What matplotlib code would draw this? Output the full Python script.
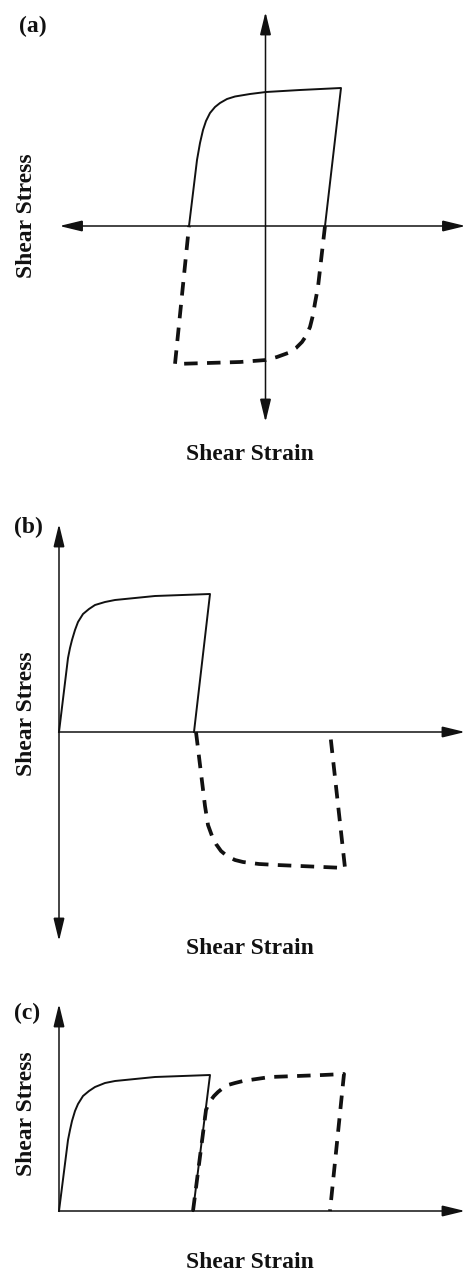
import matplotlib
matplotlib.use("Agg")
import matplotlib.pyplot as plt
from matplotlib.patches import FancyArrowPatch

# ---------------- data (strain, stress; arbitrary units) ----------------
# Panel (a): full reversed cycle
a_load_strain = [-0.765, -0.685, -0.655, -0.625, -0.595, -0.555, -0.505, -0.455, -0.385,
                 -0.305, -0.155, 0.005, 0.345, 0.755, 0.595]
a_load_stress = [0.0, 0.66, 0.83, 0.96, 1.05, 1.13, 1.19, 1.23, 1.27,
                 1.295, 1.32, 1.34, 1.36, 1.38, 0.0]
a_rev_strain = [0.595, 0.525, 0.495, 0.475, 0.445, 0.405, 0.365, 0.305, 0.225,
                0.115, 0.005, -0.255, -0.905, -0.765]
a_rev_stress = [0.0, -0.61, -0.77, -0.89, -1.01, -1.10, -1.16, -1.22, -1.27,
                -1.31, -1.34, -1.36, -1.38, 0.0]

# Panel (b): loading then reversed loading, continued strain
b_load_strain = [0.0, 0.09, 0.11, 0.13, 0.16, 0.19, 0.24, 0.30, 0.36, 0.46, 0.56, 0.76, 0.96, 1.51, 1.35]
b_load_stress = [0.0, 0.74, 0.84, 0.92, 1.02, 1.10, 1.18, 1.23, 1.27, 1.30, 1.32, 1.34, 1.36, 1.38, 0.0]
b_rev_strain = [1.37, 1.46, 1.49, 1.53, 1.57, 1.62, 1.68, 1.76, 1.84, 2.00, 2.18, 2.64, 2.86, 2.71]
b_rev_stress = [0.0, -0.74, -0.93, -1.04, -1.12, -1.19, -1.24, -1.28, -1.30, -1.32, -1.33, -1.35, -1.36, 0.0]

# Panel (c): loading then reloading in the same direction
c_load_strain = [0.0, 0.09, 0.11, 0.13, 0.16, 0.19, 0.24, 0.30, 0.36, 0.46, 0.56, 0.76, 0.96, 1.51, 1.34]
c_load_stress = [0.0, 0.71, 0.81, 0.90, 1.00, 1.07, 1.15, 1.20, 1.24, 1.28, 1.30, 1.32, 1.34, 1.36, 0.0]
c_re_strain = [1.34, 1.47, 1.49, 1.52, 1.55, 1.59, 1.64, 1.69, 1.76, 1.84, 2.11, 2.38, 2.64, 2.85, 2.71]
c_re_stress = [0.0, 1.01, 1.06, 1.11, 1.15, 1.19, 1.23, 1.26, 1.28, 1.30, 1.34, 1.35, 1.36, 1.37, 0.0]

panel_labels = ["(a)", "(b)", "(c)"]
xlabel_text = "Shear Strain"
ylabel_text = "Shear Stress"

# ---------------- figure ----------------
W, H = 465, 1273
DPI = 100
fig = plt.figure(figsize=(W / DPI, H / DPI), dpi=DPI)

FONT = dict(family="Liberation Serif", weight="bold", fontsize=17, color="#111111")
INK = "#111111"


def make_axes(top_px, bot_px, x0_px, y0_px):
    """Axes spanning full width between pixel rows; data origin at (x0_px, y0_px)."""
    ax = fig.add_axes([0, 1 - bot_px / H, 1, (bot_px - top_px) / H])
    ax.set_xlim((0 - x0_px) / 100, (W - x0_px) / 100)
    ax.set_ylim((y0_px - bot_px) / 100, (y0_px - top_px) / 100)
    ax.axis("off")
    return ax


def axis_arrow(ax, p0, p1, style):
    arr = FancyArrowPatch(p0, p1, arrowstyle=style, mutation_scale=10,
                          shrinkA=0, shrinkB=0, lw=1.1, color=INK,
                          joinstyle="miter")
    ax.add_patch(arr)


HEAD = "head_length=1.4,head_width=0.34"
SOLID = dict(color=INK, lw=1.4, solid_joinstyle="round")
DASH = dict(color=INK, lw=2.7, dashes=(3.6, 2.5), dash_capstyle="butt")

# ---- panel (a) ----
axa = make_axes(0, 440, 265.5, 226)
axis_arrow(axa, (-2.06, 0), (2.0, 0), "<|-|>," + HEAD)
axis_arrow(axa, (0, -1.96), (0, 2.14), "<|-|>," + HEAD)
axa.plot(a_load_strain, a_load_stress, **SOLID)
axa.plot(a_rev_strain, a_rev_stress, **DASH)

# ---- panel (b) ----
axb = make_axes(490, 965, 59, 732)
axis_arrow(axb, (0, 0), (4.06, 0), "-|>," + HEAD)
axis_arrow(axb, (0, -2.09), (0, 2.08), "<|-|>," + HEAD)
axb.plot(b_load_strain, b_load_stress, **SOLID)
axb.plot(b_rev_strain, b_rev_stress, **DASH)

# ---- panel (c) ----
axc = make_axes(985, 1273, 59, 1211)
axis_arrow(axc, (0, 0), (4.06, 0), "-|>," + HEAD)
axis_arrow(axc, (0, 0), (0, 2.07), "-|>," + HEAD)
axc.plot(c_load_strain, c_load_stress, **SOLID)
axc.plot(c_re_strain, c_re_stress, **DASH)

# ---------------- text ----------------
label_pos = [(33, 26), (28, 527), (27, 1013)]
xlab_y = [455, 949, 1262]
ylab_y = [216, 714, 1114]
for lab, (lx, ly), xy, yy in zip(panel_labels, label_pos, xlab_y, ylab_y):
    fig.text(lx / W, 1 - ly / H, lab, ha="center", va="center", **FONT)
    fig.text(250 / W, 1 - xy / H, xlabel_text, ha="center", va="center", **FONT)
    fig.text(27 / W, 1 - yy / H, ylabel_text, ha="center", va="center",
             rotation=90, **FONT)

fig.savefig("out.png", dpi=DPI)
